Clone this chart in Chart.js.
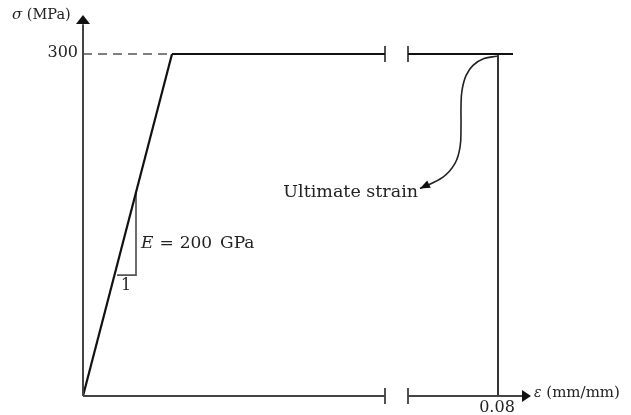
<!DOCTYPE html>
<html>
<head>
<meta charset="utf-8">
<script src="https://cdn.jsdelivr.net/npm/chart.js@4/dist/chart.umd.min.js"></script>
<style>
html,body{margin:0;padding:0;background:#fff}
</style>
</head>
<body>
<canvas id="myChart" width="631" height="415"></canvas>
<script>
// schematic diagram: x is the position along the broken strain axis, y is stress in MPa
var elasticX = [0, 89]
var elasticY = [0, 300]
var plateauX = [89, 302]
var plateau2X = [325, 430]
var yieldStress = 300
var breakX = [302, 325]
var ultimateX = 415            // where 0.08 mm/mm sits
var slopeX = [34, 53, 53]
var slopeY = [106, 106, 178]
var curveX = [414, 401, 390, 383, 379, 378, 378, 377, 372, 360, 337]
var curveY = [298, 296, 290, 281, 268, 254, 236, 218, 204, 192, 182]
var xTickLabels = ["0.08"]
var yTickLabels = ["300"]

function pts(xs, ys){
	var out = []
	for (var i = 0; i < xs.length; i++) out.push({x: xs[i], y: ys[i]})
	return out
}
function line(data, color, width, dash, tension){
	return {data: data, borderColor: color, borderWidth: width, borderDash: dash || [],
		pointRadius: 0, tension: tension || 0, clip: false, fill: false}
}

var sets = [
	line(pts([0, 0], [0, 326]), "#444", 2),
	line(pts([0, breakX[0]], [0, 0]), "#444", 2),
	line(pts([breakX[1], 440], [0, 0]), "#444", 2),
	line(pts([0, elasticX[1]], [yieldStress, yieldStress]), "#555", 1.3, [9, 6]),
	line(pts(elasticX, elasticY), "#111", 2.2),
	line(pts(plateauX, [yieldStress, yieldStress]), "#111", 2.2),
	line(pts(plateau2X, [yieldStress, yieldStress]), "#111", 2.2),
	line(pts([ultimateX, ultimateX], [0, yieldStress]), "#111", 1.7),
	line(pts(slopeX, slopeY), "#555", 1.7),
	line(pts(curveX, curveY), "#222", 1.6, null, 0.4)
]
breakX.forEach(function(b){
	sets.push(line(pts([b, b], [yieldStress - 7, yieldStress + 7]), "#333", 1.7))
	sets.push(line(pts([b, b], [-7, 7]), "#333", 1.7))
})

function arrow(ctx, tx, ty, fx, fy, len, half){
	var a = Math.atan2(ty - fy, tx - fx)
	ctx.beginPath()
	ctx.moveTo(tx, ty)
	ctx.lineTo(tx - len*Math.cos(a) + half*Math.sin(a), ty - len*Math.sin(a) - half*Math.cos(a))
	ctx.lineTo(tx - len*Math.cos(a) - half*Math.sin(a), ty - len*Math.sin(a) + half*Math.cos(a))
	ctx.closePath()
	ctx.fill()
}
// text pieces drawn one after the other, [text, font, extra gap after]
function runs(ctx, x, y, parts){
	parts.forEach(function(p){
		ctx.font = p[1]
		ctx.fillText(p[0], x, y)
		x += ctx.measureText(p[0]).width + (p[2] || 0)
	})
}

var extras = {
	id: "extras",
	afterDatasetsDraw: function(chart){
		var ctx = chart.ctx, xs = chart.scales.x, ys = chart.scales.y, area = chart.chartArea
		var x0 = xs.getPixelForValue(0), y0 = ys.getPixelForValue(0)
		ctx.save()
		ctx.fillStyle = "#111"
		arrow(ctx, x0, area.top, x0, area.top + 10, 9, 7)
		arrow(ctx, area.right, y0, area.right - 10, y0, 9, 6)
		var n = curveX.length
		arrow(ctx, xs.getPixelForValue(curveX[n-1]), ys.getPixelForValue(curveY[n-1]),
			xs.getPixelForValue(curveX[n-2]), ys.getPixelForValue(curveY[n-2]), 10, 4)

		var serif = '"DejaVu Serif", serif'
		ctx.fillStyle = "#222"
		ctx.textBaseline = "middle"
		ctx.textAlign = "right"
		ctx.font = "16px " + serif
		ctx.fillText(yTickLabels[0], x0 - 5, ys.getPixelForValue(yieldStress) - 1)
		ctx.textAlign = "center"
		ctx.fillText(xTickLabels[0], xs.getPixelForValue(ultimateX) - 1, y0 + 12)
		ctx.fillText("1", xs.getPixelForValue(43), ys.getPixelForValue(slopeY[0]) + 11)
		ctx.textAlign = "left"
		runs(ctx, 12, 15, [["σ", "italic 15px " + serif], [" (MPa)", "14.5px " + serif]])
		runs(ctx, area.right + 3, y0 - 3, [["ε", "italic 14px " + serif], [" (mm/mm)", "15px " + serif]])
		var big = "17px " + serif
		runs(ctx, xs.getPixelForValue(53) + 5, ys.getPixelForValue(134),
			[["E", "italic " + big, 6], ["=", big, 6], ["200", big, 8], ["GPa", big]])
		ctx.textAlign = "right"
		ctx.font = "17.5px " + serif
		ctx.fillText("Ultimate strain", xs.getPixelForValue(curveX[n-1]) - 2, ys.getPixelForValue(curveY[n-1]) + 4)
		ctx.restore()
	}
}

var myChart = new Chart(document.getElementById("myChart"), {
	type: "line",
	data: {datasets: sets},
	options: {
		responsive: false,
		animation: false,
		layout: {padding: {left: 83, right: 100, top: 15, bottom: 19}},
		plugins: {legend: {display: false}, tooltip: {enabled: false}},
		scales: {
			x: {type: "linear", display: false, min: 0, max: 448},
			y: {type: "linear", display: false, min: 0, max: 334.2}
		}
	},
	plugins: [extras]
})
</script>
</body>
</html>
